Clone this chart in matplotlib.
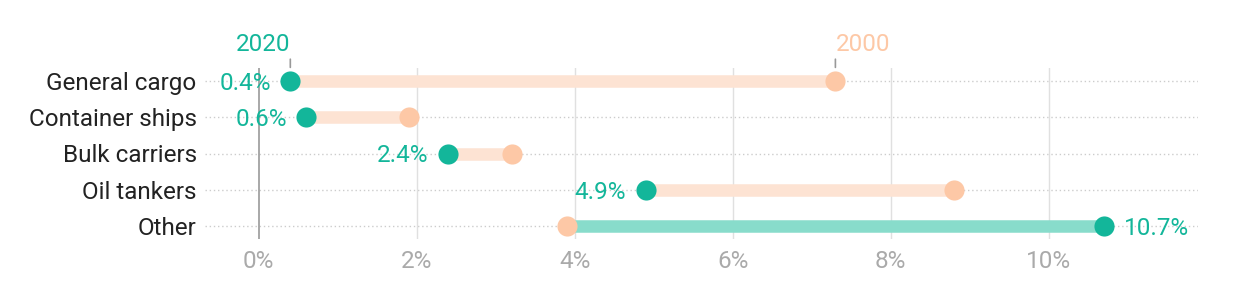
import matplotlib
matplotlib.use("Agg")
import matplotlib.pyplot as plt

categories = ["General cargo", "Container ships", "Bulk carriers", "Oil tankers", "Other"]
values_2020 = [0.4, 0.6, 2.4, 4.9, 10.7]
values_2000 = [7.3, 1.9, 3.2, 8.8, 3.9]
xticks = [0, 2, 4, 6, 8, 10]
xtick_labels = ["0%", "2%", "4%", "6%", "8%", "10%"]

TEAL = "#13b69a"
TEAL_BAR = "#88dccb"
PEACH = "#fdc8a6"
PEACH_BAR = "#fde3d3"
FS = 17.5

plt.rcParams['font.family'] = ['Roboto', 'DejaVu Sans']

W, H = 1240, 304
fig = plt.figure(figsize=(W / 100, H / 100), dpi=100)
ax = fig.add_axes([205 / W, (H - 239) / H, (1198 - 205) / W, (239 - 68) / H])

ax.set_xlim(-0.68, 11.89)
ax.set_ylim(4.36, -0.36)

for x in xticks:
    ax.axvline(x, color="#999999" if x == 0 else "#e0e0e0", lw=1.2 if x == 0 else 1, zorder=1)

for i, cat in enumerate(categories):
    ax.axhline(i, color="#cccccc", lw=1, ls=(0, (1, 2)), zorder=0)
    a, b = values_2020[i], values_2000[i]
    bar_color = TEAL_BAR if a > b else PEACH_BAR
    ax.plot([a, b], [i, i], color=bar_color, lw=9, solid_capstyle="butt", zorder=2)
    ax.plot(b, i, "o", color=PEACH, ms=14.5, mec="none", zorder=3)
    ax.plot(a, i, "o", color=TEAL, ms=14.5, mec="none", zorder=4)
    if a < b:
        ax.annotate(f"{a}%", (a, i), xytext=(-14, 0), textcoords="offset points",
                    ha="right", va="center_baseline", color=TEAL, fontsize=FS)
    else:
        ax.annotate(f"{a}%", (a, i), xytext=(14.5, 0), textcoords="offset points",
                    ha="left", va="center_baseline", color=TEAL, fontsize=FS)

# series labels
ax.annotate("", xy=(values_2020[0], -0.3), xytext=(values_2020[0], -0.68),
            xycoords="data", annotation_clip=False,
            arrowprops=dict(arrowstyle="-", color="#999999", lw=1.2))
ax.text(values_2020[0], -0.7, "2020", ha="right", va="bottom", color=TEAL, fontsize=FS, clip_on=False)
ax.annotate("", xy=(values_2000[0], -0.3), xytext=(values_2000[0], -0.68),
            xycoords="data", annotation_clip=False,
            arrowprops=dict(arrowstyle="-", color="#999999", lw=1.2))
ax.text(values_2000[0], -0.7, "2000", ha="left", va="bottom", color=PEACH, fontsize=FS, clip_on=False)

ax.set_yticks(range(len(categories)))
ax.set_yticklabels(categories, fontsize=FS, color="#222222", va="center_baseline")
ax.set_xticks(xticks)
ax.set_xticklabels(xtick_labels, fontsize=FS, color="#aaaaaa")
ax.tick_params(axis="y", length=0, pad=6)
ax.tick_params(axis="x", length=0, pad=8)
for s in ax.spines.values():
    s.set_visible(False)

fig.savefig("out.png", dpi=100)
